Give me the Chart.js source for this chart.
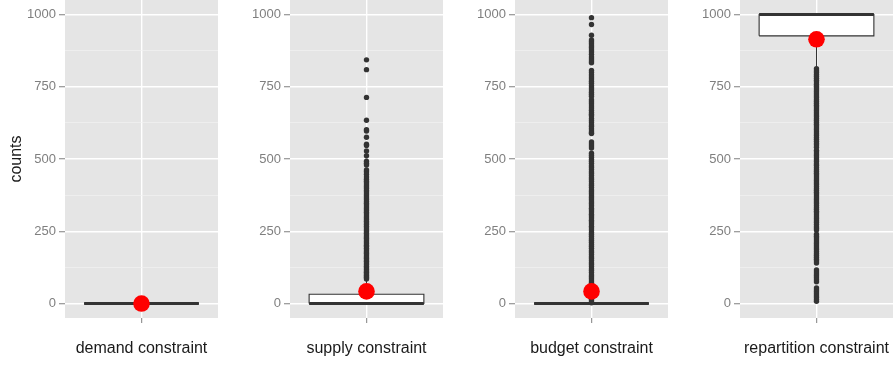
<!DOCTYPE html>
<html>
<head>
<meta charset="utf-8">
<script src="https://cdn.jsdelivr.net/npm/chart.js@4.4.1/dist/chart.umd.min.js"></script>
<style>
  html, body { margin: 0; padding: 0; background: #ffffff; }
  body { width: 893px; height: 365px; position: relative; overflow: hidden; }
  .cell { position: absolute; top: 0; height: 365px; }
</style>
</head>
<body>
<div class="cell" id="cell0"><canvas id="panel0"></canvas></div>
<div class="cell" id="cell1"><canvas id="panel1"></canvas></div>
<div class="cell" id="cell2"><canvas id="panel2"></canvas></div>
<div class="cell" id="cell3"><canvas id="panel3"></canvas></div>
<script>
// ── Data ──────────────────────────────────────────
const categories = ['demand constraint', 'supply constraint', 'budget constraint', 'repartition constraint'];
const q1 = [0, 0, 0, 926];
const medians = [0, 0, 0, 1000];
const q3 = [0, 32, 0, 1000];
const whiskerLow = [0, 0, 0, 816];
const whiskerHigh = [0, 80, 0, 1000];
const means = [0, 42, 42, 914];

const demandOutliers = [];
const supplyOutliers = [843, 809, 713, 634, 601, 597, 575, 551, 547, 528, 511, 492, 485, 479, 462, 456,
  447, 438, 430, 423, 417, 410, 404, 398, 391, 386, 379, 373, 366, 360, 353, 347, 341, 334, 328, 322,
  316, 310, 303, 297, 291, 285, 279, 273, 267, 261, 255, 249, 243, 237, 231, 226, 220, 214, 208, 202,
  197, 191, 185, 179, 174, 168, 162, 157, 151, 146, 140, 135, 129, 124, 118, 113, 108, 103, 98, 93, 89, 85];
const budgetOutliers = [989, 965, 928, 912, 906, 899, 891, 885, 877, 870, 862, 853, 846, 839, 833,
  806, 799, 791, 784, 777, 769, 762, 753, 746, 739, 731, 724, 717,
  705, 698, 691, 683, 676, 669, 661, 655, 650,
  640, 633, 626, 618, 612, 605, 597, 591, 588,
  559, 552, 545, 538,
  520, 513, 506, 498, 492, 485, 477, 471, 464, 456, 450, 443, 435, 429, 422, 414, 408, 401, 393, 387,
  380, 372, 366, 359, 351, 345, 338, 330, 324, 317, 309, 303, 296, 288, 282, 275, 267, 261, 254, 246,
  240, 233, 225, 219, 212, 204, 198, 191, 183, 177, 170, 162, 156, 149, 141, 135, 128, 120, 114, 107,
  99, 93, 86, 78, 72, 65, 57, 51, 44, 36, 30, 23, 15, 9, 3];
const repartitionOutliers = [812, 805, 799, 792, 786, 779, 772, 766, 759, 752, 746, 739, 733, 726, 719,
  713, 706, 700, 693, 686, 680, 673, 667, 660, 653, 647, 640, 634, 627, 620, 614, 607, 601, 594, 587,
  581, 574, 568, 561, 554, 548, 541, 530, 524, 517, 511, 504, 497, 491, 484, 478, 471, 464, 458, 451,
  445, 438, 431, 425, 418, 412, 405, 398, 392, 385, 379, 372, 365, 359, 352, 346, 339, 332, 326, 319,
  313, 306, 299, 293, 286, 280, 273, 266, 260, 254,
  240, 233, 227, 220, 213, 207, 200, 193, 187, 180, 173, 167, 160, 153, 147, 140,
  116, 109, 102, 96, 89, 82, 75,
  54, 47, 41, 34, 27, 21, 14, 8];
const outliers = [demandOutliers, supplyOutliers, budgetOutliers, repartitionOutliers];

const yTicks = [0, 125, 250, 375, 500, 625, 750, 875, 1000];
const yMajor = [0, 250, 500, 750, 1000];

// ── Layout (pixels) ───────────────────────────────
const cellLeft = [0, 218, 443, 668];
const cellWidth = [218, 225, 225, 225];
const axisWidth = [65, 72, 72, 72];

Chart.defaults.font.family = '"Liberation Sans", Arial, Helvetica, sans-serif';

// grey panel behind the grid
const panelBg = {
  id: 'panelBg',
  beforeDraw(chart) {
    const a = chart.chartArea;
    const ctx = chart.ctx;
    ctx.save();
    ctx.fillStyle = '#e5e5e5';
    ctx.fillRect(a.left, a.top, a.right - a.left, a.bottom - a.top);
    ctx.restore();
  }
};

function lineSet(points, width, order) {
  return { data: points, borderColor: '#333333', borderWidth: width, pointRadius: 0, fill: false, order: order };
}

// ── Panels ────────────────────────────────────────
function makePanel(i) {
  const cell = document.getElementById('cell' + i);
  cell.style.left = cellLeft[i] + 'px';
  cell.style.width = cellWidth[i] + 'px';

  const lo = 0.55, hi = 1.45;
  const datasets = [
    { // box body
      data: [{ x: lo, y: q3[i] }, { x: hi, y: q3[i] }],
      fill: { value: q1[i] }, backgroundColor: '#ffffff', borderWidth: 0, pointRadius: 0, order: 6
    },
    lineSet([{ x: 1, y: q3[i] }, { x: 1, y: whiskerHigh[i] }], 1, 7),
    lineSet([{ x: 1, y: q1[i] }, { x: 1, y: whiskerLow[i] }], 1, 7),
    lineSet([{ x: lo, y: q1[i] }, { x: hi, y: q1[i] }, { x: hi, y: q3[i] }, { x: lo, y: q3[i] }, { x: lo, y: q1[i] }], 1.1, 5),
    lineSet([{ x: lo, y: medians[i] }, { x: hi, y: medians[i] }], 3, 4),
    { // outliers
      data: outliers[i].map(v => ({ x: 1, y: v })),
      showLine: false, pointRadius: 2.7, pointBackgroundColor: '#333333', pointBorderWidth: 0, order: 2
    },
    { // mean
      data: [{ x: 1, y: means[i] }],
      showLine: false, pointRadius: 8.3, pointBackgroundColor: '#ff0000', pointBorderWidth: 0, order: 1
    }
  ];

  new Chart(document.getElementById('panel' + i), {
    type: 'line',
    data: { datasets: datasets },
    options: {
      responsive: true,
      maintainAspectRatio: false,
      animation: false,
      events: [],
      layout: { padding: 0, autoPadding: false },
      plugins: { legend: { display: false }, tooltip: { enabled: false } },
      scales: {
        x: {
          type: 'linear', min: 0.4, max: 1.6,
          afterBuildTicks: s => { s.ticks = [{ value: 1 }]; },
          afterFit: s => { s.height = 47; s.paddingLeft = 0; s.paddingRight = 0; },
          border: { display: false },
          grid: { color: '#ffffff', lineWidth: 1.4, tickColor: '#7f7f7f', tickLength: 5, tickWidth: 1 },
          ticks: { callback: () => categories[i], color: '#1a1a1a', font: { size: 16 }, padding: 16, autoSkip: false, maxRotation: 0 }
        },
        y: {
          type: 'linear', min: -50, max: 1050,
          afterBuildTicks: s => { s.ticks = yTicks.map(v => ({ value: v })); },
          afterFit: s => { s.width = axisWidth[i]; s.paddingTop = 0; s.paddingBottom = 0; },
          border: { display: false },
          grid: {
            color: c => yMajor.includes(c.tick.value) ? '#ffffff' : '#f2f2f2',
            lineWidth: c => yMajor.includes(c.tick.value) ? 1.5 : 0.7,
            tickColor: c => yMajor.includes(c.tick.value) ? '#7f7f7f' : 'rgba(0,0,0,0)',
            tickLength: 6, tickWidth: 1
          },
          ticks: {
            callback: v => yMajor.includes(v) ? String(v) : '',
            color: '#7f7f7f', font: { size: 13 }, padding: 3, autoSkip: false
          },
          title: {
            display: i === 0, text: 'counts', color: '#1a1a1a', font: { size: 16 },
            padding: { top: 7, bottom: 0 }
          }
        }
      }
    },
    plugins: [panelBg]
  });
}

window.onload = function () {
  for (let i = 0; i < categories.length; i++) makePanel(i);
};
</script>
</body>
</html>
